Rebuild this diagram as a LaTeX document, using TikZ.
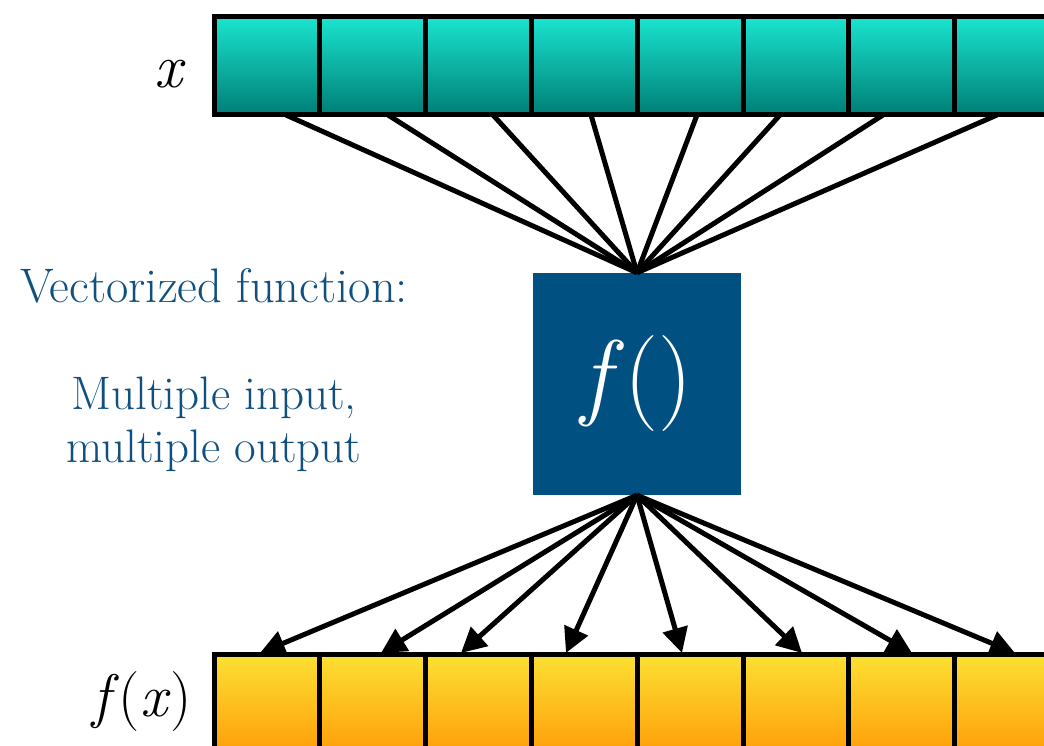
\documentclass[tikz,border=0pt]{standalone}
\usepackage{fontspec}
\usetikzlibrary{arrows.meta}
\definecolor{tealtop}{RGB}{26,228,206}
\definecolor{tealbot}{RGB}{0,126,118}
\definecolor{yeltop}{RGB}{252,224,52}
\definecolor{yelbot}{RGB}{255,158,8}
\definecolor{fblue}{RGB}{0,80,130}
\definecolor{tblue}{RGB}{16,80,128}
\tikzset{
  cellline/.style={line width=5pt,draw=black},
  feed/.style={line width=5pt,draw=black},
  outarrow/.style={line width=5pt,draw=black,-{Triangle[length=25pt,width=25pt]}},
  fbox/.style={fill=fblue,minimum width=208pt,minimum height=222pt,inner sep=0pt,text=white},
  lbl/.style={text=tblue,align=center,inner sep=0pt}
}
\begin{document}
\begin{tikzpicture}[x=1pt,y=1pt]
\useasboundingbox (0,0) rectangle (1044,746);
\clip (0,0) rectangle (1044,746);
% top bar
\shade[top color=tealtop,bottom color=tealbot] (214,729) rectangle (1062,631);
\foreach \i in {0,...,7} {
  \draw[cellline] ({214+105.8*\i},729) rectangle ({214+105.8*(\i+1)},631);
}
% bottom bar
\shade[top color=yeltop,bottom color=yelbot] (214,91) rectangle (1062,-7);
\foreach \i in {0,...,7} {
  \draw[cellline] ({214+105.8*\i},91) rectangle ({214+105.8*(\i+1)},-7);
}
% labels
\node[inner sep=0pt,font=\fontsize{62}{68}\selectfont] (xl) at (170,672) {\textit{x}};
\node[inner sep=0pt,font=\fontsize{60}{66}\selectfont] (fxl) at (142,44) {\textit{f\/}(\textit{x})};
\node[lbl,font=\fontsize{48.5}{53}\selectfont] (vf) at (214,460) {Vectorized function:};
\node[lbl,font=\fontsize{47}{53}\selectfont] (mio) at (214,322) {Multiple input,\\multiple output};
% function box
\node[fbox,font=\fontsize{96}{104}\selectfont] (f) at (637,362) {\raisebox{4pt}{\textit{f\/}()}};
% input connection points
\foreach \n/\x in {1/286,2/388,3/493,4/591,5/697,6/780,7/883,8/997} {
  \coordinate (in\n) at (\x,631);
  \draw[feed] (in\n) -- (f.north);
}
% output targets
\foreach \n/\x in {1/260,2/381,3/461,4/566,5/682,6/802,7/912,8/1015} {
  \coordinate (out\n) at (\x,93);
  \draw[outarrow] (f.south) -- (out\n);
}
\end{tikzpicture}
\end{document}
